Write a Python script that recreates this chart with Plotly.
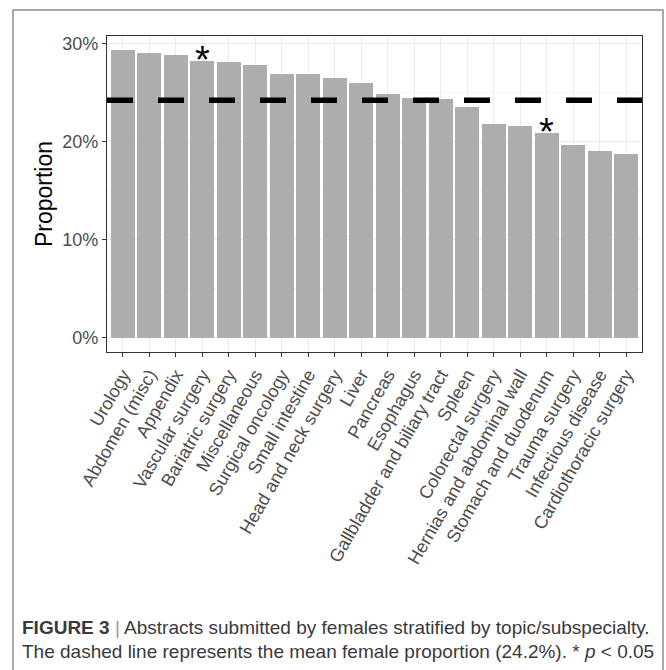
import plotly.graph_objects as go

# Proportion of abstracts submitted by female authors, by topic (%)
topics = [
    "Urology", "Abdomen (misc)", "Appendix", "Vascular surgery",
    "Bariatric surgery", "Miscellaneous", "Surgical oncology",
    "Small intestine", "Head and neck surgery", "Liver", "Pancreas",
    "Esophagus", "Gallbladder and biliary tract", "Spleen",
    "Colorectal surgery", "Hernias and abdominal wall",
    "Stomach and duodenum", "Trauma surgery", "Infectious disease",
    "Cardiothoracic surgery",
]
female_pct = [
    29.3, 29.0, 28.8, 28.2, 28.1, 27.8, 26.9, 26.9, 26.5, 26.0,
    24.9, 24.4, 24.3, 23.5, 21.8, 21.6, 20.9, 19.6, 19.0, 18.7,
]
significant_topics = ["Vascular surgery", "Stomach and duodenum"]
mean_pct = 24.2

y_tick_vals = [0, 10, 20, 30]
y_tick_text = ["0%", "10%", "20%", "30%"]

caption_line1 = ("<b>FIGURE 3</b> <span style='color:#9a9a9a'>|</span> "
                 "Abstracts submitted by females stratified by topic/subspecialty.")
caption_line2 = ("The dashed line represents the mean female proportion "
                 "(24.2%). * <i>p</i> < 0.05")

W, H = 666, 670
ML, MR, MT, MB = 107, 24, 36, 318
plot_w = W - ML - MR
plot_h = H - MT - MB


def px_to_paper_x(px):
    return (px - ML) / plot_w


def px_to_paper_y(py):
    return (H - MB - py) / plot_h


FONT = "Liberation Sans, Arial, Helvetica, sans-serif"

fig = go.Figure()
fig.add_trace(go.Bar(
    x=topics, y=female_pct, width=0.9,
    marker=dict(color="#ADADAD", line=dict(width=0)),
    hoverinfo="x+y",
))

# mean reference line
fig.add_shape(
    type="line", xref="x domain", yref="y", x0=0, x1=1,
    y0=mean_pct, y1=mean_pct,
    line=dict(color="black", width=5.5, dash="26px,25px"),
    layer="above",
)

# significance markers
for t in significant_topics:
    v = female_pct[topics.index(t)]
    fig.add_annotation(
        x=t, y=v, xref="x", yref="y", text="*", showarrow=False,
        xanchor="center", yanchor="middle", yshift=1,
        font=dict(family=FONT, size=38, color="black"),
    )

# figure caption
for line, py in [(caption_line1, 627), (caption_line2, 651)]:
    fig.add_annotation(
        x=px_to_paper_x(20), y=px_to_paper_y(py), xref="paper", yref="paper",
        text=line, showarrow=False, xanchor="left", yanchor="middle",
        align="left", font=dict(family=FONT, size=19, color="#3a3a3a"),
    )

# outer frame
fig.add_shape(
    type="rect", xref="paper", yref="paper",
    x0=px_to_paper_x(13), x1=px_to_paper_x(663),
    y0=px_to_paper_y(10), y1=px_to_paper_y(720),
    line=dict(color="#8c8c8c", width=1.5), fillcolor="rgba(0,0,0,0)",
    layer="below",
)

vmax = max(female_pct)
fig.update_layout(
    width=W, height=H,
    margin=dict(l=ML, r=MR, t=MT, b=MB, autoexpand=False),
    paper_bgcolor="white", plot_bgcolor="white",
    showlegend=False,
    font=dict(family=FONT, color="#4D4D4D"),
    bargap=0,
)
fig.update_xaxes(
    range=[-0.6, len(topics) - 0.4],
    tickangle=-60, tickfont=dict(size=18, color="#4D4D4D"),
    showgrid=True, gridcolor="#EBEBEB", gridwidth=1.1,
    ticks="outside", ticklen=4, tickcolor="#333333", tickwidth=1.1,
    showline=True, linecolor="#333333", linewidth=1.1, mirror=True,
    zeroline=False, automargin=False,
)
fig.update_yaxes(
    range=[-0.05 * vmax, 1.05 * vmax],
    tickvals=y_tick_vals, ticktext=y_tick_text,
    tickfont=dict(size=18, color="#4D4D4D"),
    showgrid=True, gridcolor="#EBEBEB", gridwidth=1.1,
    minor=dict(tickvals=[5, 15, 25], showgrid=True, gridcolor="#F4F4F4",
               gridwidth=0.6, ticks=""),
    ticks="outside", ticklen=4, tickcolor="#333333", tickwidth=1.1,
    showline=True, linecolor="#333333", linewidth=1.1, mirror=True,
    zeroline=False, automargin=False,
    title=dict(text="Proportion", font=dict(size=23, color="black"), standoff=3),
)

fig.write_html("out.html")
